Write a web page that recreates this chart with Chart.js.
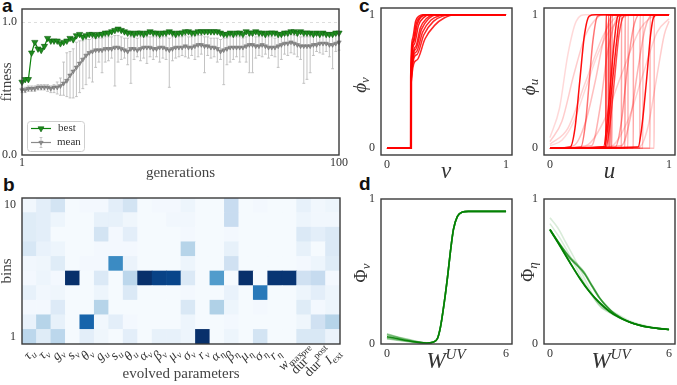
<!DOCTYPE html>
<html><head><meta charset="utf-8">
<script src="https://cdn.jsdelivr.net/npm/chart.js@4.4.1/dist/chart.umd.min.js"></script>
<style>
html,body{margin:0;padding:0;background:#fff;}
body{width:677px;height:385px;position:relative;overflow:hidden;}
canvas{position:absolute;display:block;}
.pl{position:absolute;font:bold 19px "Liberation Sans",Arial,sans-serif;line-height:19px;color:#111;}
</style></head><body>
<div class="pl" style="left:2px;top:-4px">a</div>
<div class="pl" style="left:3px;top:175px">b</div>
<div class="pl" style="left:359px;top:-4px">c</div>
<div class="pl" style="left:359px;top:174px">d</div>
<canvas id="cA" width="350" height="182" style="left:0;top:0"></canvas>
<canvas id="cB" width="350" height="200" style="left:0;top:185px"></canvas>
<canvas id="cC1" width="177" height="190" style="left:340px;top:0"></canvas>
<canvas id="cC2" width="177" height="190" style="left:500px;top:0"></canvas>
<canvas id="cD1" width="177" height="200" style="left:340px;top:185px"></canvas>
<canvas id="cD2" width="177" height="200" style="left:500px;top:185px"></canvas>
<script>
// ================= DATA =================
// panel a
const generations = [1,2,3,4,5,6,7,8,9,10,11,12,13,14,15,16,17,18,19,20,21,22,23,24,25,26,27,28,29,30,31,32,33,34,35,36,37,38,39,40,41,42,43,44,45,46,47,48,49,50,51,52,53,54,55,56,57,58,59,60,61,62,63,64,65,66,67,68,69,70,71,72,73,74,75,76,77,78,79,80,81,82,83,84,85,86,87,88,89,90,91,92,93,94,95,96,97,98,99,100];
const bestFitness = [
 0.55,0.57,0.57,0.77,0.85,0.80,0.79,0.82,0.88,0.86,
 0.86,0.86,0.84,0.85,0.86,0.88,0.87,0.90,0.91,0.89,
 0.90,0.91,0.91,0.90,0.91,0.91,0.92,0.92,0.93,0.94,
 0.95,0.94,0.93,0.92,0.92,0.91,0.92,0.92,0.91,0.92,
 0.93,0.92,0.92,0.91,0.92,0.92,0.93,0.92,0.91,0.92,
 0.92,0.93,0.93,0.92,0.92,0.93,0.93,0.93,0.93,0.93,
 0.93,0.93,0.92,0.91,0.91,0.92,0.91,0.92,0.92,0.91,
 0.93,0.92,0.92,0.93,0.92,0.92,0.91,0.92,0.92,0.92,
 0.91,0.91,0.92,0.92,0.93,0.93,0.92,0.93,0.92,0.92,
 0.92,0.91,0.92,0.91,0.92,0.91,0.91,0.91,0.92,0.92];
const meanFitness = [
 0.49,0.49,0.50,0.50,0.50,0.51,0.51,0.51,0.51,0.50,
 0.51,0.51,0.52,0.54,0.56,0.60,0.63,0.66,0.69,0.72,
 0.75,0.77,0.78,0.79,0.79,0.79,0.80,0.80,0.80,0.81,
 0.81,0.80,0.79,0.78,0.80,0.80,0.79,0.80,0.81,0.81,
 0.81,0.80,0.80,0.81,0.81,0.80,0.79,0.80,0.81,0.81,
 0.81,0.82,0.81,0.81,0.82,0.83,0.83,0.82,0.82,0.81,
 0.81,0.80,0.78,0.79,0.80,0.81,0.81,0.81,0.81,0.81,
 0.82,0.83,0.83,0.82,0.82,0.83,0.82,0.81,0.81,0.81,
 0.82,0.83,0.84,0.84,0.85,0.84,0.83,0.82,0.82,0.82,
 0.82,0.83,0.83,0.84,0.84,0.84,0.83,0.83,0.84,0.85];
const meanLow = [
 0.47,0.47,0.48,0.48,0.48,0.49,0.49,0.49,0.48,0.47,
 0.47,0.46,0.45,0.45,0.44,0.43,0.43,0.44,0.47,0.50,
 0.53,0.58,0.55,0.66,0.70,0.62,0.70,0.71,0.73,0.52,
 0.70,0.72,0.73,0.68,0.54,0.72,0.74,0.71,0.73,0.69,
 0.74,0.72,0.74,0.70,0.73,0.72,0.51,0.71,0.73,0.74,
 0.75,0.74,0.73,0.75,0.72,0.74,0.76,0.62,0.75,0.73,
 0.74,0.70,0.72,0.53,0.68,0.70,0.72,0.74,0.70,0.74,
 0.70,0.62,0.62,0.73,0.75,0.74,0.76,0.73,0.75,0.74,
 0.66,0.72,0.76,0.75,0.77,0.76,0.74,0.72,0.54,0.57,
 0.62,0.75,0.78,0.77,0.76,0.78,0.74,0.65,0.78,0.79];
const meanHigh = [
 0.51,0.51,0.52,0.52,0.52,0.53,0.53,0.53,0.53,0.52,
 0.53,0.55,0.58,0.70,0.77,0.78,0.80,0.85,0.86,0.86,
 0.87,0.87,0.88,0.88,0.88,0.88,0.89,0.89,0.89,0.90,
 0.90,0.89,0.88,0.88,0.89,0.89,0.88,0.89,0.89,0.89,
 0.89,0.89,0.89,0.88,0.89,0.89,0.88,0.89,0.89,0.89,
 0.89,0.90,0.89,0.89,0.90,0.90,0.90,0.89,0.89,0.88,
 0.88,0.88,0.87,0.88,0.88,0.89,0.89,0.89,0.89,0.88,
 0.89,0.90,0.90,0.89,0.89,0.90,0.89,0.89,0.89,0.88,
 0.89,0.90,0.90,0.90,0.91,0.90,0.90,0.89,0.89,0.89,
 0.89,0.90,0.90,0.90,0.91,0.90,0.90,0.90,0.90,0.91];
const legendLabels = ['best','mean'];

// panel b
const params = ['τ_u','τ_v','g_v','s_v','θ_v','g_u','s_u','θ_u','α_v','β_v','μ_v','σ_v','r_v','α_η','β_η','μ_η','σ_η','r_η','w_max','dur^pre','dur^post','I_ext'];
const bins = [1,2,3,4,5,6,7,8,9,10];
const binTickLabels = ['1','10'];
// rows listed from bin 10 (top) down to bin 1 (bottom); values = share of population
const heatBin10 = [0.03,0.10,0.18,0.01,0.02,0.02,0.10,0.18,0.01,0.02,0.02,0.05,0.01,0.01,0.24,0.01,0.02,0.01,0.01,0.08,0.03,0.05];
const heatBin9  = [0.12,0.10,0.05,0.01,0.01,0.08,0.08,0.04,0.01,0.01,0.03,0.03,0.01,0.01,0.24,0.01,0.01,0.01,0.01,0.05,0.03,0.03];
const heatBin8  = [0.12,0.10,0.01,0.01,0.01,0.18,0.02,0.10,0.01,0.01,0.01,0.02,0.01,0.01,0.02,0.01,0.01,0.01,0.01,0.14,0.10,0.14];
const heatBin7  = [0.16,0.07,0.05,0.01,0.01,0.02,0.02,0.02,0.01,0.01,0.01,0.30,0.01,0.01,0.08,0.01,0.01,0.01,0.01,0.08,0.01,0.14];
const heatBin6  = [0.03,0.04,0.12,0.01,0.02,0.02,0.65,0.06,0.01,0.01,0.01,0.05,0.01,0.01,0.20,0.01,0.01,0.01,0.01,0.02,0.05,0.12];
const heatBin5  = [0.02,0.05,0.02,1.00,0.01,0.14,0.01,0.28,1.00,0.93,0.92,0.14,0.01,0.58,0.01,1.00,0.01,0.98,0.98,0.20,0.25,0.02];
const heatBin4  = [0.08,0.03,0.04,0.01,0.01,0.05,0.01,0.14,0.01,0.01,0.01,0.02,0.01,0.01,0.07,0.01,0.72,0.01,0.01,0.05,0.10,0.05];
const heatBin3  = [0.02,0.02,0.13,0.01,0.01,0.30,0.01,0.01,0.01,0.01,0.01,0.15,0.01,0.32,0.05,0.01,0.02,0.01,0.01,0.12,0.02,0.05];
const heatBin2  = [0.07,0.30,0.08,0.01,0.80,0.03,0.10,0.02,0.01,0.01,0.01,0.05,0.01,0.01,0.02,0.01,0.01,0.01,0.01,0.04,0.20,0.30];
const heatBin1  = [0.28,0.12,0.28,0.01,0.10,0.04,0.01,0.10,0.01,0.08,0.08,0.05,1.00,0.01,0.05,0.01,0.18,0.01,0.01,0.15,0.15,0.06];
const heatRows = [heatBin1,heatBin2,heatBin3,heatBin4,heatBin5,heatBin6,heatBin7,heatBin8,heatBin9,heatBin10];

// panel c left: phi_v(v)
const phiVCurves = [
 [[0,0],[0.2,0],[0.201,0.52],[0.22,0.8],[0.245,0.93],[0.28,0.985],[0.32,1],[1,1]],
 [[0,0],[0.198,0],[0.199,0.53],[0.215,0.82],[0.24,0.95],[0.27,0.99],[0.3,1],[1,1]],
 [[0,0],[0.2,0],[0.201,0.52],[0.225,0.8],[0.255,0.93],[0.29,0.985],[0.34,1],[1,1]],
 [[0,0],[0.2,0],[0.201,0.5],[0.23,0.78],[0.265,0.92],[0.31,0.98],[0.36,1],[1,1]],
 [[0,0],[0.205,0],[0.206,0.5],[0.24,0.76],[0.28,0.9],[0.33,0.97],[0.4,1],[1,1]],
 [[0,0],[0.2,0],[0.201,0.5],[0.24,0.74],[0.29,0.89],[0.35,0.97],[0.42,1],[1,1]],
 [[0,0],[0.2,0],[0.201,0.48],[0.245,0.72],[0.3,0.87],[0.37,0.96],[0.45,0.995],[0.5,1],[1,1]],
 [[0,0],[0.2,0],[0.201,0.49],[0.25,0.7],[0.31,0.85],[0.39,0.95],[0.47,0.99],[0.54,1],[1,1]],
 [[0,0],[0.2,0],[0.201,0.46],[0.25,0.66],[0.32,0.82],[0.4,0.92],[0.48,0.975],[0.57,1],[1,1]]
];
const phiVAlpha = [0.9,0.9,0.9,0.9,0.85,0.85,0.85,0.85,0.85];

// panel c right: phi_u(u)
const phiUCurves = [
 [[0,0.05],[0.1,0.2],[0.2,0.55],[0.3,0.85],[0.4,0.98],[0.45,1],[1,1]],
 [[0,0.03],[0.15,0.15],[0.3,0.5],[0.45,0.85],[0.55,0.98],[0.6,1],[1,1]],
 [[0,0.08],[0.08,0.3],[0.15,0.7],[0.22,0.95],[0.3,1],[1,1]],
 [[0,0.02],[0.1,0.06],[0.2,0.2],[0.3,0.45],[0.4,0.7],[0.5,0.88],[0.6,0.97],[0.7,1],[1,1]],
 [[0,0],[0.3,0.02],[0.45,0.2],[0.6,0.55],[0.75,0.88],[0.85,0.98],[0.95,1],[1,1]],
 [[0,0],[0.5,0.01],[0.65,0.2],[0.78,0.55],[0.9,0.87],[1,0.97]],
 [[0,0],[0.75,0.01],[0.82,0.15],[0.9,0.55],[0.96,0.85],[1,0.95]],
 [[0,0],[0.2,0.02],[0.3,0.2],[0.38,0.5],[0.46,0.85],[0.52,0.99],[0.56,1],[1,1]],
 [[0,0],[0.35,0.02],[0.42,0.3],[0.48,0.7],[0.55,0.95],[0.6,1],[1,1]],
 [[0,0],[0.55,0.01],[0.6,0.2],[0.65,0.6],[0.7,0.9],[0.75,1],[1,1]],
 [[0,0],[0.6,0.02],[0.68,0.25],[0.74,0.6],[0.8,0.9],[0.86,1],[1,1]],
 [[0,0],[0.6,0],[0.601,1],[1,1]],
 [[0,0],[0.63,0],[0.631,1],[1,1]],
 [[0,0],[0.655,0],[0.656,1],[1,1]],
 [[0,0],[0.7,0],[0.701,1],[1,1]],
 [[0,0],[0.755,0],[0.756,1],[1,1]],
 [[0,0],[0.78,0],[0.781,1],[1,1]],
 [[0,0],[0.84,0],[0.841,1],[1,1]],
 [[0,0],[0.875,0],[0.876,1],[1,1]],
 [[0,0],[0.26,0.01],[0.3,0.2],[0.33,0.5],[0.36,0.8],[0.4,0.99],[0.45,1],[1,1]],
 [[0,0],[0.47,0.01],[0.5,0.15],[0.54,0.5],[0.58,0.85],[0.62,0.99],[0.66,1],[1,1]],
 [[0,0],[0.47,0],[0.471,1],[1,1]],
 [[0,0],[0.49,0],[0.491,1],[1,1]],
 [[0,0],[0.505,0],[0.506,1],[1,1]],
 [[0,0],[0.52,0],[0.521,1],[1,1]],
 [[0,0],[0.17,0.01],[0.21,0.15],[0.25,0.5],[0.29,0.85],[0.33,0.99],[0.38,1],[1,1]],
 [[0,0],[0.45,0.01],[0.48,0.2],[0.51,0.5],[0.54,0.8],[0.57,0.99],[0.6,1],[1,1]],
 [[0,0],[0.46,0.01],[0.49,0.2],[0.525,0.5],[0.56,0.8],[0.59,0.99],[0.63,1],[1,1]],
 [[0,0],[0.74,0.01],[0.77,0.15],[0.81,0.5],[0.845,0.85],[0.87,0.98],[0.9,1],[1,1]]
];
const phiUAlpha = [0.2,0.18,0.15,0.15,0.2,0.18,0.2,0.25,0.3,0.4,0.3,
 0.35,0.4,0.3,0.35,0.3,0.25,0.3,0.25,0.55,0.7,0.9,0.7,0.8,0.5,0.95,0.9,0.9,0.95];

// panel d left: Phi_v(W^UV)
const PhiVCurves = [
 [[0,0.07],[0.5,0.05],[1,0.034],[1.5,0.018],[2,0.008],[2.3,0.012],[2.55,0.04],[2.7,0.12],[2.9,0.3],[3.05,0.46],[3.2,0.64],[3.35,0.79],[3.55,0.88],[3.8,0.91],[4.1,0.915],[6,0.915]],
 [[0,0.065],[0.5,0.048],[1,0.03],[1.5,0.016],[2,0.007],[2.3,0.012],[2.55,0.04],[2.7,0.12],[2.9,0.3],[3.05,0.46],[3.2,0.64],[3.35,0.79],[3.55,0.88],[3.8,0.91],[4.1,0.915],[6,0.915]],
 [[0,0.06],[0.5,0.044],[1,0.028],[1.5,0.015],[2,0.007],[2.3,0.012],[2.55,0.04],[2.7,0.12],[2.9,0.3],[3.05,0.46],[3.2,0.64],[3.35,0.79],[3.55,0.88],[3.8,0.91],[4.1,0.915],[6,0.915]],
 [[0,0.045],[0.5,0.034],[1,0.022],[1.5,0.012],[2,0.006],[2.3,0.012],[2.55,0.04],[2.7,0.12],[2.9,0.3],[3.05,0.46],[3.2,0.64],[3.35,0.79],[3.55,0.88],[3.8,0.91],[4.1,0.915],[6,0.915]],
 [[0,0.04],[0.5,0.03],[1,0.02],[1.5,0.011],[2,0.005],[2.3,0.012],[2.55,0.04],[2.7,0.12],[2.9,0.3],[3.05,0.46],[3.2,0.64],[3.35,0.79],[3.55,0.88],[3.8,0.91],[4.1,0.915],[6,0.915]],
 [[0,0.035],[0.5,0.027],[1,0.018],[1.5,0.01],[2,0.005],[2.3,0.012],[2.55,0.04],[2.7,0.12],[2.9,0.3],[3.05,0.46],[3.2,0.64],[3.35,0.79],[3.55,0.88],[3.8,0.91],[4.1,0.915],[6,0.915]],
 [[0,0.05],[0.5,0.038],[1,0.024],[1.5,0.013],[2,0.006],[2.3,0.012],[2.55,0.04],[2.7,0.12],[2.9,0.3],[3.05,0.46],[3.2,0.64],[3.35,0.79],[3.55,0.88],[3.8,0.91],[4.1,0.915],[6,0.915]]
];
const PhiVAlpha = [0.3,0.3,0.3,0.3,0.3,0.3,0.9];

// panel d right: Phi_eta(W^UV)
const PhiEtaCurves = [
 [[0,0.87],[0.4,0.8],[0.8,0.7],[1.2,0.6],[1.6,0.49],[2,0.38],[2.3,0.3],[2.6,0.25],[2.9,0.235],[3.2,0.22],[3.6,0.19],[4,0.16],[5,0.12],[6,0.1]],
 [[0,0.83],[0.5,0.73],[1,0.61],[1.5,0.48],[2,0.36],[2.4,0.29],[2.8,0.24],[3.2,0.2],[4,0.15],[5,0.115],[6,0.1]],
 [[0,0.79],[0.6,0.66],[1.2,0.52],[1.8,0.4],[2.3,0.3],[2.7,0.24],[3.1,0.21],[3.5,0.185],[4,0.155],[5,0.115],[6,0.1]],
 [[0,0.79],[0.5,0.69],[1,0.6],[1.3,0.56],[1.7,0.5],[2.1,0.41],[2.5,0.32],[2.8,0.27],[3.2,0.215],[3.6,0.178],[4,0.152],[5,0.115],[6,0.1]],
 [[0,0.79],[0.5,0.685],[1,0.59],[1.35,0.545],[1.75,0.48],[2.15,0.39],[2.5,0.315],[2.9,0.25],[3.3,0.205],[4,0.152],[5,0.115],[6,0.1]],
 [[0,0.79],[0.5,0.688],[1,0.595],[1.3,0.55],[1.72,0.49],[2.12,0.4],[2.5,0.318],[2.85,0.26],[3.25,0.21],[4,0.152],[5,0.115],[6,0.1]],
 [[0,0.79],[0.5,0.68],[1,0.565],[1.5,0.455],[2,0.36],[2.5,0.285],[3,0.225],[3.5,0.182],[4,0.152],[4.5,0.13],[5,0.115],[5.5,0.106],[6,0.1]],
 [[0,0.785],[0.5,0.676],[1,0.562],[1.5,0.452],[2,0.358],[2.5,0.284],[3,0.224],[3.5,0.182],[4,0.152],[4.5,0.13],[5,0.115],[5.5,0.106],[6,0.1]]
];
const PhiEtaAlpha = [0.15,0.15,0.2,0.45,0.45,0.45,0.9,0.9];

// ================= HELPERS =================
const SERIF = '"Liberation Serif","DejaVu Serif",serif';
Chart.defaults.font.family = SERIF;
Chart.defaults.color = '#333';
Chart.defaults.animation = false;

const fixW = w => s => { s.width = w; s.paddingTop = 0; s.paddingBottom = 0; };
const fixH = h => s => { s.height = h; s.paddingLeft = 0; s.paddingRight = 0; };
const setTicks = vals => s => { s.ticks = vals.map(v => ({value: v})); };

const framePlugin = { id:'frame', afterDraw(c){
  const a=c.chartArea, ctx=c.ctx; ctx.save(); ctx.strokeStyle='#3a3a3a'; ctx.lineWidth=1.4;
  ctx.strokeRect(a.left, a.top, a.right-a.left, a.bottom-a.top); ctx.restore(); } };

function fontOf(p){ return (p[2]?'italic ':'') + p[1] + 'px ' + SERIF; }
function richText(ctx, x, y, rot, parts, color){
  ctx.save(); ctx.translate(x,y); ctx.rotate(rot||0);
  const widths = parts.map(p => { ctx.font = fontOf(p); return ctx.measureText(p[0]).width; });
  const total = widths.reduce((s,v)=>s+v,0);
  let cx = -total/2; ctx.textBaseline='alphabetic'; ctx.textAlign='left'; ctx.fillStyle=color||'#333';
  parts.forEach((p,i)=>{ ctx.font=fontOf(p); ctx.fillText(p[0], cx, p[3]||0); cx+=widths[i]; });
  ctx.restore(); return total;
}
function richPlugin(items){ return { id:'rich', afterDraw(c){ items.forEach(it => richText(c.ctx, it.x, it.y, it.rot, it.parts)); } }; }

function tri(ctx, x, y, r, fill, stroke, bw){
  const s = Math.sin(Math.PI/3)*r;
  ctx.beginPath(); ctx.moveTo(x, y+r); ctx.lineTo(x-s, y-r/2); ctx.lineTo(x+s, y-r/2); ctx.closePath();
  ctx.fillStyle=fill; ctx.fill(); ctx.strokeStyle=stroke; ctx.lineWidth=bw; ctx.stroke();
}

const BLUES = [[247,251,255],[222,235,247],[198,219,239],[158,202,225],[107,174,214],[66,146,198],[33,113,181],[8,81,156],[8,48,107]];
function blues(v){ v=Math.max(0,Math.min(1,v)); const p=v*8, i=Math.min(7,Math.floor(p)), f=p-i; const a=BLUES[i], b=BLUES[i+1];
  return 'rgb(' + a.map((c,k)=>Math.round(c+(b[k]-c)*f)).join(',') + ')'; }

// ================= PANEL A =================
const gridPlugin = { id:'gridA', beforeDatasetsDraw(c){
  const y=c.scales.y, a=c.chartArea, ctx=c.ctx, py=Math.round(y.getPixelForValue(1))+0.5;
  ctx.save(); ctx.strokeStyle='#d6d6d6'; ctx.lineWidth=0.8; ctx.setLineDash([3,3]);
  ctx.beginPath(); ctx.moveTo(a.left,py); ctx.lineTo(a.right,py); ctx.stroke(); ctx.restore(); } };
const errPlugin = { id:'errA', beforeDatasetsDraw(c){
  const x=c.scales.x, y=c.scales.y, ctx=c.ctx; ctx.save(); ctx.strokeStyle='#bcbcbc'; ctx.lineWidth=0.9; ctx.beginPath();
  generations.forEach((g,i)=>{ const px=x.getPixelForValue(g), y1=y.getPixelForValue(meanLow[i]), y2=y.getPixelForValue(meanHigh[i]);
    ctx.moveTo(px,y1); ctx.lineTo(px,y2); ctx.moveTo(px-1.4,y1); ctx.lineTo(px+1.4,y1); ctx.moveTo(px-1.4,y2); ctx.lineTo(px+1.4,y2); });
  ctx.stroke(); ctx.restore(); } };
const legendPlugin = { id:'legA', afterDatasetsDraw(c){
  const ctx=c.ctx, a=c.chartArea, x0=a.left+5, y0=a.bottom-34, w=57, h=30;
  ctx.save(); ctx.fillStyle='rgba(255,255,255,0.92)'; ctx.strokeStyle='#cfcfcf'; ctx.lineWidth=1;
  ctx.beginPath(); ctx.roundRect(x0+0.5,y0+0.5,w,h,3); ctx.fill(); ctx.stroke();
  const ly1=y0+7.5, ly2=y0+21.5, lx1=x0+4, lx2=x0+24, mx=x0+14;
  ctx.strokeStyle='#0a820a'; ctx.lineWidth=1.2; ctx.beginPath(); ctx.moveTo(lx1,ly1); ctx.lineTo(lx2,ly1); ctx.stroke();
  tri(ctx, mx, ly1, 3.4, '#1e8c1e', '#0b5d0b', 0.6);
  ctx.strokeStyle='#bcbcbc'; ctx.lineWidth=0.9; ctx.beginPath(); ctx.moveTo(mx,ly2-5); ctx.lineTo(mx,ly2+5);
  ctx.moveTo(mx-1.4,ly2-5); ctx.lineTo(mx+1.4,ly2-5); ctx.moveTo(mx-1.4,ly2+5); ctx.lineTo(mx+1.4,ly2+5); ctx.stroke();
  ctx.strokeStyle='#8a8a8a'; ctx.lineWidth=1.2; ctx.beginPath(); ctx.moveTo(lx1,ly2); ctx.lineTo(lx2,ly2); ctx.stroke();
  tri(ctx, mx, ly2, 2.5, '#8c8c8c', '#6e6e6e', 0.5);
  ctx.fillStyle='#333'; ctx.font='11px '+SERIF; ctx.textBaseline='middle'; ctx.textAlign='left';
  ctx.fillText(legendLabels[0], x0+31, ly1); ctx.fillText(legendLabels[1], x0+30, ly2);
  ctx.restore(); } };

new Chart(document.getElementById('cA'), {
  type:'line',
  data:{ datasets:[
    { label:legendLabels[0], data:generations.map((g,i)=>({x:g,y:bestFitness[i]})), borderColor:'#0a820a', borderWidth:1.2,
      pointStyle:'triangle', pointRotation:180, pointRadius:3.6, pointBackgroundColor:'#1e8c1e', pointBorderColor:'#0b5d0b', pointBorderWidth:0.6, clip:6 },
    { label:legendLabels[1], data:generations.map((g,i)=>({x:g,y:meanFitness[i]})), borderColor:'#8a8a8a', borderWidth:1.2,
      pointStyle:'triangle', pointRotation:180, pointRadius:2.6, pointBackgroundColor:'#8c8c8c', pointBorderColor:'#6e6e6e', pointBorderWidth:0.5, clip:6 }
  ]},
  options:{ responsive:false, animation:false, layout:{padding:{left:0,top:9,right:11,bottom:0}},
    plugins:{legend:{display:false}, tooltip:{enabled:false}},
    scales:{
      x:{ type:'linear', min:1, max:100, afterBuildTicks:setTicks([1,100]), afterFit:fixH(27),
          grid:{display:false, drawTicks:false}, border:{display:false},
          ticks:{padding:1, font:{size:12}, maxRotation:0, autoSkip:false},
          title:{display:true, text:'generations', font:{size:15}, padding:0, color:'#444'} },
      y:{ type:'linear', min:0, max:1.1, afterBuildTicks:setTicks([0,1]), afterFit:fixW(22),
          grid:{display:false, drawTicks:false}, border:{display:false},
          ticks:{padding:5, font:{size:12}, callback:v=>v.toFixed(1)},
          title:{display:true, text:'fitness', font:{size:15, lineHeight:1}, padding:0, color:'#444'} }
    } },
  plugins:[gridPlugin, errPlugin, legendPlugin, framePlugin]
});

// ================= PANEL B =================
const paramTickPlugin = { id:'paramTicks', afterDraw(c){
  const xs=c.scales.x, ctx=c.ctx, top=c.chartArea.bottom+3;
  params.forEach((lab,i)=>{
    const m = lab.match(/^(.+?)([_^])(.+)$/); const base=m[1], mode=m[2], scr=m[3];
    const parts = [[base, 13.5, base.length===1, 4], [scr, 9.5, scr.length===1, mode==='_' ? 7 : -3]];
    let total=0; parts.forEach(p=>{ ctx.font=fontOf(p); total+=ctx.measureText(p[0]).width; });
    const bb=(total+10)*0.7071;
    richText(ctx, xs.getPixelForValue(i), top+bb/2, -Math.PI/4, parts, '#333');
  }); } };

new Chart(document.getElementById('cB'), {
  type:'bar',
  data:{ labels:params, datasets: bins.map((b,bi)=>({
    label:'bin '+b, data: params.map(()=>[b-1,b]), backgroundColor: heatRows[bi].map(blues),
    borderWidth:0, grouped:false, barPercentage:1, categoryPercentage:1 })) },
  options:{ responsive:false, animation:false, layout:{padding:{left:0,top:13,right:10,bottom:2}},
    plugins:{legend:{display:false}, tooltip:{enabled:false}},
    scales:{
      x:{ type:'category', afterFit:fixH(39), grid:{display:false, drawTicks:false}, border:{display:false},
          ticks:{display:false},
          title:{display:true, text:'evolved parameters', font:{size:15}, padding:0, color:'#444'} },
      y:{ type:'linear', min:0, max:10, afterBuildTicks:setTicks([0.5,9.5]), afterFit:fixW(22),
          grid:{display:false, drawTicks:false}, border:{display:false},
          ticks:{padding:6, font:{size:12}, callback:(v,i)=>binTickLabels[i]},
          title:{display:true, text:'bins', font:{size:15, lineHeight:1}, padding:0, color:'#444'} }
    } },
  plugins:[paramTickPlugin, framePlugin]
});

// ================= PANELS C / D =================
function curveChart(id, curves, alphas, rgb, lw, xr, yr, xt, yt, yW, xH, pad, rich){
  return new Chart(document.getElementById(id), {
    type:'line',
    data:{ datasets: curves.map((pts,i)=>({ data: pts.map(p=>({x:p[0],y:p[1]})),
      borderColor:'rgba('+rgb+','+alphas[i]+')', borderWidth: lw, pointRadius:0, fill:false, cubicInterpolationMode:'monotone' })) },
    options:{ responsive:false, animation:false, layout:{padding:pad},
      plugins:{legend:{display:false}, tooltip:{enabled:false}},
      scales:{
        x:{ type:'linear', min:xr[0], max:xr[1], afterBuildTicks:setTicks(xt), afterFit:fixH(xH),
            grid:{display:false, drawTicks:false}, border:{display:false},
            ticks:{padding:3, font:{size:12}, maxRotation:0, autoSkip:false} },
        y:{ type:'linear', min:yr[0], max:yr[1], afterBuildTicks:setTicks(yt), afterFit:fixW(yW),
            grid:{display:false, drawTicks:false}, border:{display:false},
            ticks:{padding:6, font:{size:12}} }
      } },
    plugins:[richPlugin(rich), framePlugin]
  });
}
const RED='255,0,0', GREEN='0,128,0';
curveChart('cC1', phiVCurves, phiVAlpha, RED, 1.5, [-0.05,1.05], [-0.05,1.05], [0,1], [0,1], 41, 35, {left:0,top:8,right:5,bottom:0},
  [ {x:26, y:85, rot:-Math.PI/2, parts:[['ϕ',19,true,0],['v',13,true,3]]},
    {x:106, y:178, rot:0, parts:[['v',23,true,0]]} ]);
curveChart('cC2', phiUCurves, phiUAlpha, RED, 1.5, [-0.05,1.05], [-0.05,1.05], [0,1], [0,1], 44, 35, {left:0,top:8,right:2,bottom:0},
  [ {x:35, y:87, rot:-Math.PI/2, parts:[['ϕ',19,true,0],['u',13,true,3]]},
    {x:109.5, y:178, rot:0, parts:[['u',23,true,0]]} ]);
curveChart('cD1', PhiVCurves, PhiVAlpha, GREEN, 1.6, [-0.3,6.3], [0,1], [0,6], [0,1], 41, 41, {left:0,top:14,right:5,bottom:0},
  [ {x:27, y:88, rot:-Math.PI/2, parts:[['Φ',18,false,0],['v',13,true,3]]},
    {x:106, y:183, rot:0, parts:[['W',23,true,0],['UV',15,true,-9]]} ]);
curveChart('cD2', PhiEtaCurves, PhiEtaAlpha, GREEN, 1.6, [-0.3,6.3], [0,1], [0,6], [0,1], 44, 41, {left:0,top:14,right:2,bottom:0},
  [ {x:34, y:87, rot:-Math.PI/2, parts:[['Φ',18,false,0],['η',13,true,3]]},
    {x:111, y:183, rot:0, parts:[['W',23,true,0],['UV',15,true,-9]]} ]);
</script></body></html>
